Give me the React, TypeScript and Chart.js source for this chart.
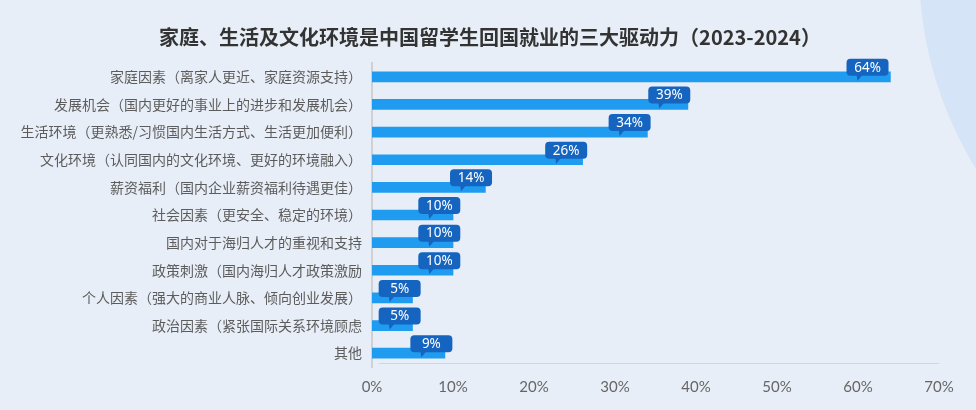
import { useEffect, useRef } from "react"
import { Chart, registerables } from "chart.js"

Chart.register(...registerables)

const title = "家庭、生活及文化环境是中国留学生回国就业的三大驱动力（2023-2024）"

const categories = [
  "家庭因素（离家人更近、家庭资源支持）",
  "发展机会（国内更好的事业上的进步和发展机会）",
  "生活环境（更熟悉/习惯国内生活方式、生活更加便利）",
  "文化环境（认同国内的文化环境、更好的环境融入）",
  "薪资福利（国内企业薪资福利待遇更佳）",
  "社会因素（更安全、稳定的环境）",
  "国内对于海归人才的重视和支持",
  "政策刺激（国内海归人才政策激励",
  "个人因素（强大的商业人脉、倾向创业发展）",
  "政治因素（紧张国际关系环境顾虑",
  "其他",
]

const values = [64, 39, 34, 26, 14, 10, 10, 10, 5, 5, 9]

const xMin = 0
const xMax = 70
const xStep = 10

// title centred on the whole picture, not on the padded box
const titlePlugin = {
  id: "centredTitle",
  afterDraw(chart: any) {
    const { ctx, width } = chart
    ctx.save()
    ctx.fillStyle = "#333333"
    ctx.font = "bold 20px 'Noto Sans CJK SC', sans-serif"
    ctx.textAlign = "center"
    ctx.textBaseline = "middle"
    ctx.fillText(title, width / 2 + 2, 37)
    ctx.restore()
  },
}

// speech-bubble labels above each bar
const calloutPlugin = {
  id: "callouts",
  afterDatasetsDraw(chart: any) {
    const { ctx } = chart
    const meta = chart.getDatasetMeta(0)
    ctx.save()
    meta.data.forEach((bar: any, i: number) => {
      const v = values[i]
      const w = 42
      const h = 17
      const cx = bar.x - 12 - v * 0.17
      const bottom = bar.y - 1
      const left = cx - w / 2
      ctx.fillStyle = "#1565C0"
      ctx.beginPath()
      ctx.roundRect(left, bottom - h, w, h, 4)
      ctx.fill()
      const px = cx - 10
      ctx.beginPath()
      ctx.moveTo(px - 1, bottom - 1)
      ctx.lineTo(px + 5, bottom - 1)
      ctx.lineTo(px, bottom + 5)
      ctx.closePath()
      ctx.fill()
      ctx.fillStyle = "#ffffff"
      ctx.font = "13.5px 'Noto Sans', sans-serif"
      ctx.textAlign = "center"
      ctx.textBaseline = "middle"
      ctx.fillText(`${v}%`, cx, bottom - h / 2 + 0.5)
    })
    ctx.restore()
  },
}

// thin baseline under the bars
const baselinePlugin = {
  id: "baseline",
  beforeDatasetsDraw(chart: any) {
    const { ctx, chartArea } = chart
    ctx.save()
    ctx.strokeStyle = "#d2d6dc"
    ctx.lineWidth = 1
    ctx.beginPath()
    ctx.moveTo(chartArea.left + 7, chartArea.bottom - 3.5)
    ctx.lineTo(chartArea.right, chartArea.bottom - 3.5)
    ctx.stroke()
    ctx.restore()
  },
}

function DriversChart() {
  const chartRef = useRef<HTMLCanvasElement>(null)
  const chartInstance = useRef<Chart | null>(null)

  useEffect(() => {
    if (!chartRef.current) return
    if (chartInstance.current) chartInstance.current.destroy()
    const ctx = chartRef.current.getContext("2d")
    if (!ctx) return

    chartInstance.current = new Chart(ctx, {
      type: "bar",
      data: {
        labels: categories,
        datasets: [
          {
            data: values,
            backgroundColor: "#1F9BF0",
            barThickness: 10,
            borderWidth: 0,
          },
        ],
      },
      options: {
        indexAxis: "y",
        animation: false,
        responsive: true,
        maintainAspectRatio: false,
        layout: { padding: { left: 0, right: 37, top: 63, bottom: 13 } },
        plugins: {
          legend: { display: false },
          tooltip: { enabled: false },
          title: { display: false },
        },
        scales: {
          x: {
            min: xMin,
            max: xMax,
            grid: { display: false, drawTicks: false },
            border: { display: false },
            ticks: {
              stepSize: xStep,
              padding: 11,
              color: "#666666",
              font: { family: "Lato, sans-serif", size: 15 },
              callback: (value) => `${value}%`,
            },
            afterFit: (scale: any) => {
              scale.height = 30
            },
          },
          y: {
            grid: { display: false, drawTicks: false },
            border: { display: true, color: "#d0d0d0", width: 2 },
            ticks: {
              padding: 10,
              color: "#5c5c5c",
              font: { family: "'Noto Sans CJK SC', sans-serif", size: 14 },
            },
            afterFit: (scale: any) => {
              scale.width = 372
            },
          },
        },
      },
      plugins: [baselinePlugin, calloutPlugin, titlePlugin],
    })

    return () => {
      if (chartInstance.current) {
        chartInstance.current.destroy()
        chartInstance.current = null
      }
    }
  }, [])

  return (
    <div style={{ position: "absolute", left: 0, top: 0, width: 976, height: 410 }}>
      <canvas ref={chartRef} />
    </div>
  )
}

export default function App() {
  useEffect(() => {
    document.body.style.margin = "0"
  }, [])

  return (
    <div
      style={{
        position: "relative",
        width: 976,
        height: 410,
        background: "#E8EEF7",
        overflow: "hidden",
      }}
    >
      <div
        style={{
          position: "absolute",
          left: 919,
          top: -415,
          width: 766,
          height: 766,
          borderRadius: "50%",
          background: "#D5E4F6",
        }}
      />
      <DriversChart />
    </div>
  )
}
